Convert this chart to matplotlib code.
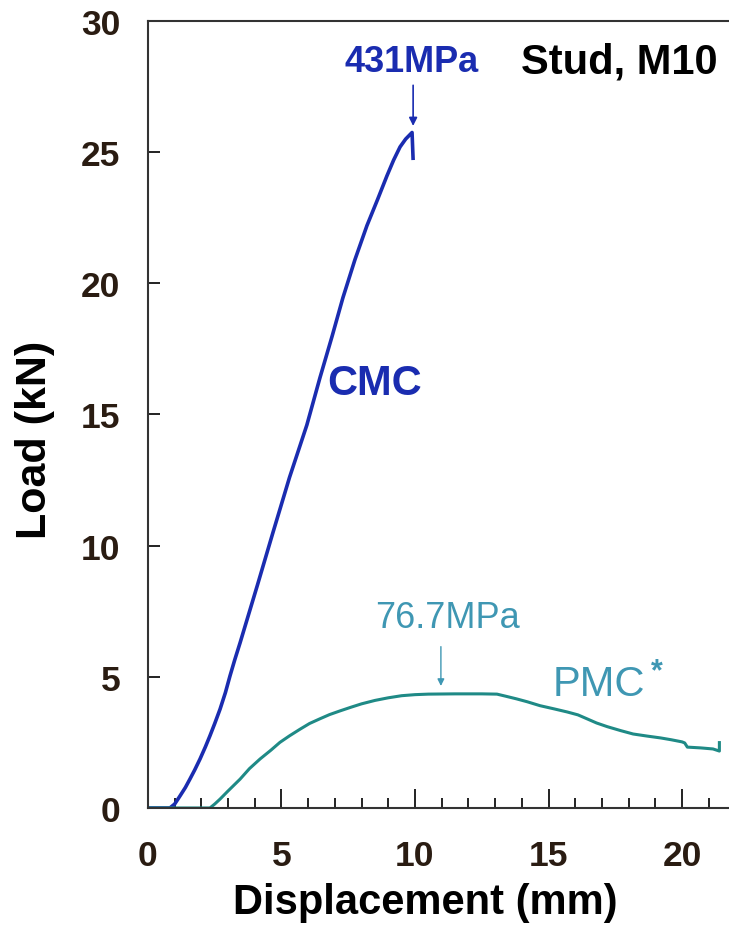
import numpy as np
import matplotlib
matplotlib.use("Agg")
import matplotlib.pyplot as plt
from matplotlib.ticker import MultipleLocator

plt.rcParams['font.family'] = ['Liberation Sans', 'DejaVu Sans']

# CMC (blue) load-displacement curve
cmc_x = [0.0, 0.5, 0.82, 1.0, 1.2, 1.4, 1.57, 1.75, 1.95, 2.15, 2.32, 2.5, 2.7, 2.9,
         3.07, 3.25, 3.45, 4.1, 4.68, 5.3, 5.95, 6.44, 6.9, 7.3, 7.75, 8.2, 8.6,
         8.95, 9.2, 9.44, 9.65, 9.89, 9.93]
cmc_y = [0.0, 0.0, 0.0, 0.15, 0.46, 0.78, 1.1, 1.45, 1.87, 2.33, 2.75, 3.22, 3.77, 4.4,
         5.03, 5.65, 6.3, 8.5, 10.5, 12.6, 14.6, 16.4, 18.0, 19.45, 20.9, 22.2, 23.2,
         24.1, 24.7, 25.2, 25.5, 25.75, 24.7]

# PMC (teal) curve
pmc_x = [0.0, 1.0, 2.32, 2.5, 2.7, 3.0, 3.45, 3.8, 4.2, 4.6, 4.94, 5.3, 5.69, 6.05,
         6.44, 6.8, 7.19, 7.6, 8.0, 8.5, 9.0, 9.5, 10.0, 10.5, 11.5, 12.5, 13.07,
         13.4, 13.8, 14.2, 14.68, 15.2, 15.7, 16.1, 16.44, 16.8, 17.2, 17.7, 18.17,
         18.7, 19.2, 19.6, 20.0, 20.1, 20.2, 20.7, 21.16, 21.4, 21.4]
pmc_y = [0.0, 0.0, 0.0, 0.15, 0.34, 0.65, 1.1, 1.5, 1.87, 2.2, 2.5, 2.75, 3.0, 3.22,
         3.4, 3.56, 3.7, 3.84, 3.97, 4.1, 4.2, 4.28, 4.32, 4.34, 4.35, 4.35, 4.34,
         4.26, 4.16, 4.05, 3.9, 3.78, 3.66, 3.55, 3.4, 3.24, 3.1, 2.95, 2.82,
         2.74, 2.67, 2.6, 2.52, 2.48, 2.32, 2.29, 2.25, 2.17, 2.55]

x_ticks = [0, 5, 10, 15, 20]
y_ticks = [0, 5, 10, 15, 20, 25, 30]

cmc_color = '#1a2cb0'
pmc_color = '#1f8a86'
pmc_text = '#3f97b3'
tick_color = '#2a1c12'

fig = plt.figure(figsize=(7.29, 9.29), dpi=100)
ax = fig.add_axes([0.203, 0.1292, 0.797, 0.8471])

ax.plot(cmc_x, cmc_y, color=cmc_color, lw=2.6, solid_capstyle='butt')
ax.plot(pmc_x, pmc_y, color=pmc_color, lw=2.2, solid_capstyle='butt')

ax.set_xlim(0, 21.76)
ax.set_ylim(0, 30)
ax.set_xticks(x_ticks)
ax.set_yticks(y_ticks)
ax.xaxis.set_minor_locator(MultipleLocator(1))

ax.tick_params(axis='x', which='major', direction='in', length=14, width=1.4,
               pad=22, labelsize=25.5, labelcolor=tick_color, color='#222222')
ax.tick_params(axis='x', which='minor', direction='in', length=7, width=1.4, color='#222222')
ax.tick_params(axis='y', which='major', direction='in', length=8.5, width=1.4,
               pad=20, labelsize=25.5, labelcolor=tick_color, color='#222222')
for lab in ax.get_xticklabels() + ax.get_yticklabels():
    lab.set_fontweight('bold')

for side in ['left', 'bottom', 'top']:
    ax.spines[side].set_linewidth(1.5)
    ax.spines[side].set_color('#333333')
ax.spines['right'].set_visible(False)

ax.set_xlabel('Displacement (mm)', fontsize=30, fontweight='bold', va='center')
ax.xaxis.set_label_coords(0.478, -0.119)
ax.set_ylabel('Load (kN)', fontsize=31, fontweight='bold', va='center')
ax.yaxis.set_label_coords(-0.1945, 0.469)

# peak annotations, arrows point at the curve maxima
i_pk = int(np.argmax(cmc_y))
ax.annotate('', xy=(cmc_x[i_pk] + 0.04, cmc_y[i_pk] + 0.25),
            xytext=(cmc_x[i_pk] + 0.04, cmc_y[i_pk] + 1.8),
            arrowprops=dict(arrowstyle='-|>', color=cmc_color, lw=1.2,
                            mutation_scale=12, shrinkA=0, shrinkB=0))
ax.text(cmc_x[i_pk], 28.45, '431MPa', color=cmc_color, fontsize=26,
        fontweight='bold', ha='center', va='center')

pmc_peak = max(pmc_y)
ax.annotate('', xy=(10.97, pmc_peak + 0.3), xytext=(10.97, pmc_peak + 1.8),
            arrowprops=dict(arrowstyle='-|>', color=pmc_text, lw=1.0,
                            mutation_scale=10, shrinkA=0, shrinkB=0))
ax.text(11.2, 7.28, '76.7MPa', color=pmc_text, fontsize=26, ha='center', va='center')

ax.text(21.35, 28.45, 'Stud, M10', color='black', fontsize=30, fontweight='bold',
        ha='right', va='center')
ax.text(8.5, 16.2, 'CMC', color=cmc_color, fontsize=30, fontweight='bold',
        ha='center', va='center')
ax.text(16.9, 4.73, 'PMC', color=pmc_text, fontsize=30, ha='center', va='center')
ax.text(19.05, 5.22, '*', color=pmc_text, fontsize=22, fontweight='bold',
        ha='center', va='center')

fig.savefig('out.png', dpi=100)
